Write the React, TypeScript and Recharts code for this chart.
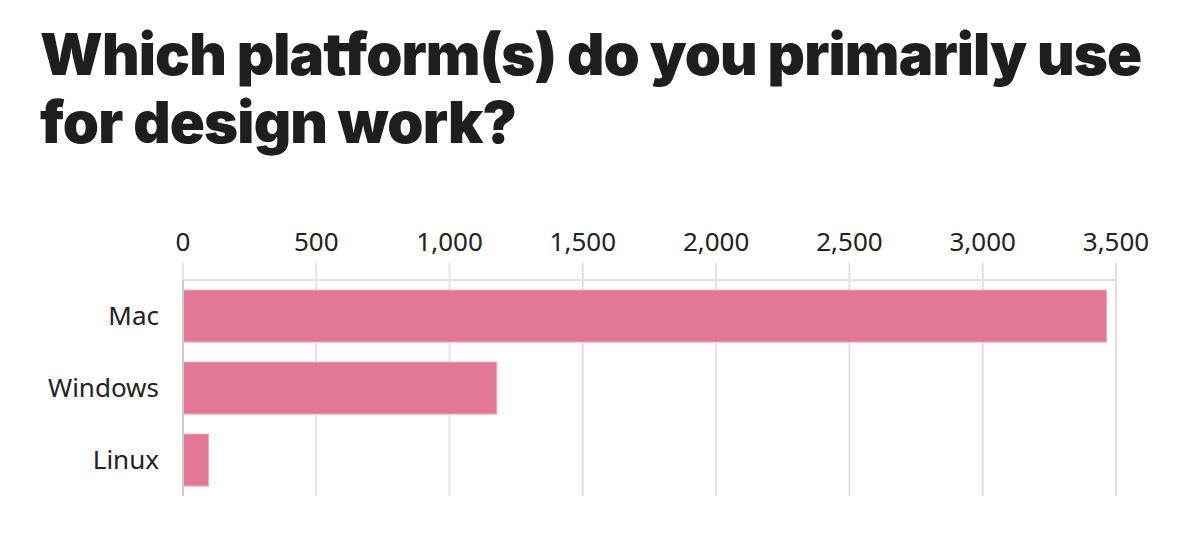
import { BarChart, Bar, XAxis, YAxis, CartesianGrid } from "recharts";

const platforms = ["Mac", "Windows", "Linux"];
const users = [3465, 1177, 96];
const xTicks = [0, 500, 1000, 1500, 2000, 2500, 3000, 3500];

const data = platforms.map((p, i) => ({ platform: p, value: users[i] }));

const fmt = (v: number) => v.toLocaleString("en-US");

export default function App() {
  return (
    <div style={{ position: "absolute", left: 0, top: 0, width: 1196, height: 538, background: "#fff" }}>
      <div
        style={{
          position: "absolute",
          left: 40,
          top: 20,
          width: 1150,
          fontFamily: "Inter, sans-serif",
          fontWeight: 900,
          fontSize: 58,
          lineHeight: "68px",
          letterSpacing: "-0.85px",
          color: "#1e1e1e",
        }}
      >
        Which platform(s) do you primarily use for design work?
      </div>
      <BarChart
        width={1196}
        height={538}
        data={data}
        layout="vertical"
        margin={{ top: 200, right: 80, bottom: 42, left: 0 }}
        barCategoryGap="14%"
      >
        <CartesianGrid horizontal={false} stroke="#e2e2e2" strokeWidth={2} />
        <XAxis
          type="number"
          orientation="top"
          domain={[0, 3500]}
          ticks={xTicks}
          tickFormatter={fmt}
          height={80}
          tickSize={17}
          tickMargin={12}
          axisLine={{ stroke: "#e2e2e2", strokeWidth: 2 }}
          tickLine={{ stroke: "#e2e2e2", strokeWidth: 2 }}
          tick={{ fill: "#222", fontSize: 26, fontFamily: "'Noto Sans', sans-serif" }}
        />
        <YAxis
          type="category"
          dataKey="platform"
          width={183}
          tickLine={false}
          tickMargin={18}
          axisLine={{ stroke: "#cccccc", strokeWidth: 2 }}
          tick={{ fill: "#222", fontSize: 26, fontFamily: "'Noto Sans', sans-serif" }}
        />
        <Bar
          dataKey="value"
          fill="#e37896"
          stroke="#f2a9bd"
          strokeWidth={1}
          isAnimationActive={false}
        />
      </BarChart>
    </div>
  );
}
